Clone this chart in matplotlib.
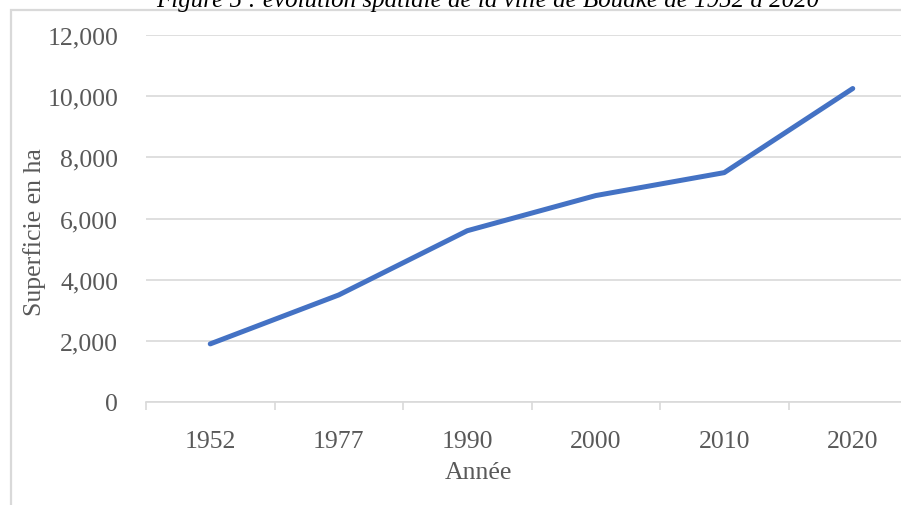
import numpy as np
import matplotlib
matplotlib.use("Agg")
import matplotlib.pyplot as plt
from matplotlib.patches import Rectangle

# data
years = ["1952", "1977", "1990", "2000", "2010", "2020"]
area_ha = [1900, 3500, 5600, 6750, 7500, 10250]
y_ticks = [0, 2000, 4000, 6000, 8000, 10000, 12000]

title = "Figure 5 : évolution spatiale de la ville de Bouaké de 1952 à 2020"
x_label = "Année"
y_label = "Superficie en ha"

plt.rcParams["font.family"] = ["Liberation Serif", "DejaVu Serif"]
text_color = "#595959"
grid_color = "#D9D9D9"
line_color = "#4472C4"
fs = 18.5

W, H = 901, 506
fig = plt.figure(figsize=(W / 100, H / 100), dpi=100)

# chart frame (cropped on right and bottom in the original)
fig.patches.append(Rectangle((11 / W, -0.1), 1.2, 1 - 11 / H + 0.1,
                             transform=fig.transFigure, fill=False,
                             edgecolor=grid_color, linewidth=1.6))

# plot area: x from 146 px to 917 px, y from 36 px (12000) to 403 px (0)
left, right = 146 / W, 917 / W
bottom, top = 1 - 403 / H, 1 - 36 / H
ax = fig.add_axes([left, bottom, right - left, top - bottom])

x = np.arange(len(years))
ax.plot(x, area_ha, color=line_color, linewidth=3.6,
        solid_capstyle="round", solid_joinstyle="round", zorder=3)

ax.set_xlim(-0.5, len(years) - 0.5)
ax.set_ylim(0, 12000)
ax.set_yticks(y_ticks)
ax.set_yticklabels([f"{v:,}" for v in y_ticks])
ax.yaxis.grid(True, color=grid_color, linewidth=1.2)
ax.set_axisbelow(True)

ax.set_xticks(x)
ax.set_xticklabels(years)
ax.set_xticks(np.arange(-0.5, len(years)), minor=True)
ax.tick_params(axis="x", which="major", length=0, pad=20,
               labelsize=fs, labelcolor=text_color)
ax.tick_params(axis="x", which="minor", length=6, width=1.2,
               color=grid_color, direction="out")
ax.tick_params(axis="y", length=0, pad=20, labelsize=fs,
               labelcolor=text_color)

for side in ["top", "right", "left"]:
    ax.spines[side].set_visible(False)
ax.spines["bottom"].set_color(grid_color)
ax.spines["bottom"].set_linewidth(1.2)

fig.text(35 / W, 1 - 232 / H, y_label, rotation=90, ha="center",
         va="center", fontsize=fs, color=text_color)
fig.text(478 / W, 1 - 473 / H, x_label, ha="center", va="center",
         fontsize=fs, color=text_color)
fig.text(488 / W, 1 - 1 / H, title, ha="center", va="center",
         fontsize=18, style="italic", color="black")

fig.savefig("out.png", dpi=100)
